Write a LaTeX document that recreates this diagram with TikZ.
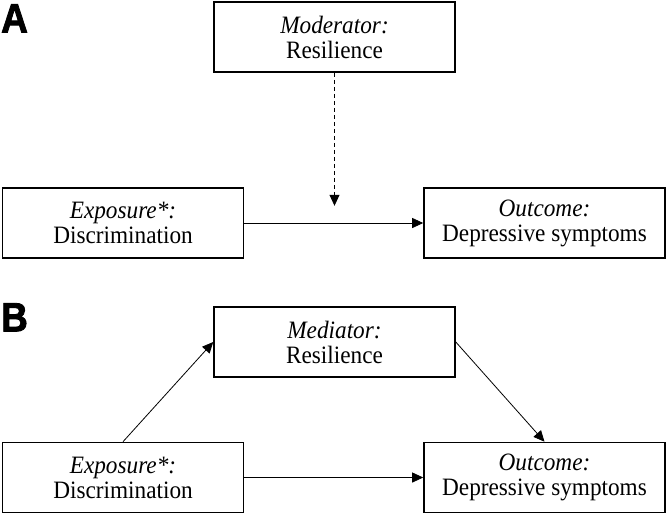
\documentclass[tikz,border=0pt]{standalone}
\usepackage{fontspec}
\setmainfont{Liberation Serif}[FakeStretch=0.93]
\newfontfamily\panelfont{Liberation Sans}[FakeStretch=0.9,FakeBold=2]
\usetikzlibrary{arrows.meta,positioning}

\begin{document}
\begin{tikzpicture}[>={Triangle[length=11pt,width=10pt]},node distance=2cm,on grid,
  box/.style={draw,line width=1.6pt,minimum width=241pt,minimum height=70pt,inner sep=0pt,align=center,font=\fontsize{25}{25}\selectfont},
  link/.style={->,line width=0.8pt},
  panel/.style={font=\panelfont\bfseries\fontsize{41}{41}\selectfont,inner sep=0pt,anchor=north west}]
  \useasboundingbox (0,0) rectangle (668pt,-515pt);
  % panel A: moderation
  \node[panel] (labA) at (1pt,-4pt) {A};
  \node[box] (expA) at (123pt,-223pt) {\textit{Exposure*:}\\Discrimination};
  \node[box] (outA) [right=421.5pt of expA] {\textit{Outcome:}\\Depressive symptoms};
  \node[box] (mod) [above right=186pt and 211.5pt of expA] {\textit{Moderator:}\\Resilience};
  \coordinate[below=133pt of mod.south] (hitA);
  \path[link]
  (expA) edge [] (outA)
  (mod.south) edge [dash pattern=on 4pt off 3pt] (hitA)
  ;
  % panel B: mediation
  \node[panel] (labB) at (1pt,-303pt) {B};
  \node[box] (expB) [below=254.5pt of expA] {\textit{Exposure*:}\\Discrimination};
  \node[box] (outB) [right=421.5pt of expB] {\textit{Outcome:}\\Depressive symptoms};
  \node[box] (med) [above right=135.5pt and 211.5pt of expB] {\textit{Mediator:}\\Resilience};
  \path[link]
  (expB) edge [] (outB)
  (expB.north) edge [] (med.west)
  (med.east) edge [] (outB.north)
  ;
\end{tikzpicture}
\end{document}
